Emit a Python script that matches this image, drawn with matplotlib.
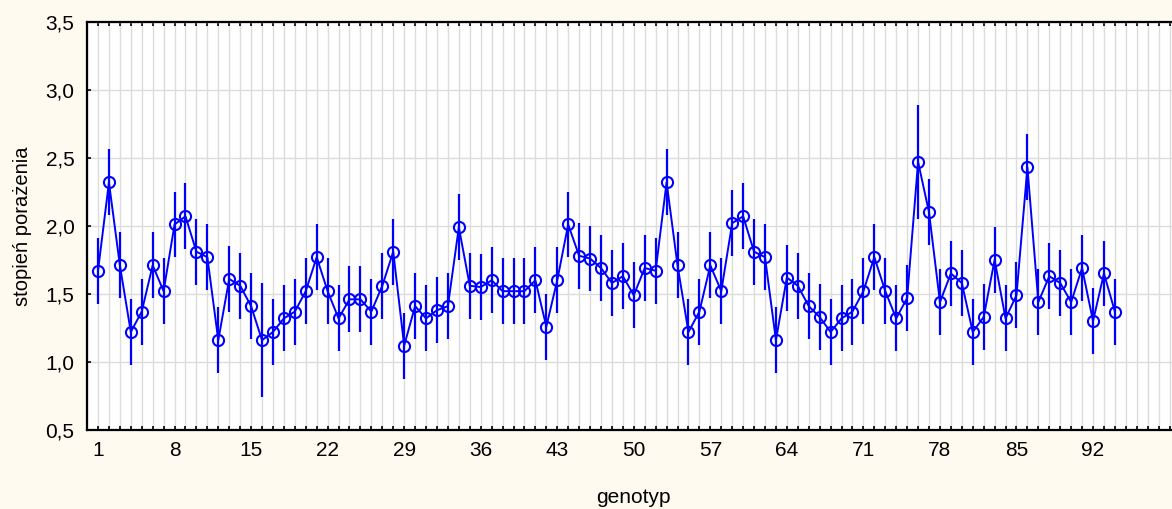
import matplotlib
matplotlib.use("Agg")
import matplotlib.pyplot as plt
import numpy as np

genotypes = list(range(1, 95))
means = [1.67, 2.32, 1.71, 1.22, 1.37, 1.71, 1.52, 2.01, 2.07, 1.81,
         1.77, 1.16, 1.61, 1.56, 1.41, 1.16, 1.22, 1.32, 1.37, 1.52,
         1.77, 1.52, 1.32, 1.46, 1.46, 1.37, 1.56, 1.81, 1.12, 1.41,
         1.32, 1.38, 1.41, 1.99, 1.56, 1.55, 1.60, 1.52, 1.52, 1.52,
         1.60, 1.26, 1.60, 2.01, 1.78, 1.76, 1.69, 1.58, 1.63, 1.49,
         1.69, 1.67, 2.32, 1.71, 1.22, 1.37, 1.71, 1.52, 2.02, 2.07,
         1.81, 1.77, 1.16, 1.62, 1.56, 1.41, 1.33, 1.22, 1.32, 1.37,
         1.52, 1.77, 1.52, 1.32, 1.47, 2.47, 2.10, 1.44, 1.65, 1.58,
         1.22, 1.33, 1.75, 1.32, 1.49, 2.43, 1.44, 1.63, 1.58, 1.44,
         1.69, 1.30, 1.65, 1.37]
errors = [0.242] * 15 + [0.42] + [0.242] * 59 + [0.42] + [0.242] * 18

xtick_values = list(range(1, 93, 7))
ytick_values = [0.5, 1.0, 1.5, 2.0, 2.5, 3.0, 3.5]
ytick_labels = ["0,5", "1,0", "1,5", "2,0", "2,5", "3,0", "3,5"]

plt.rcParams['font.family'] = ['Liberation Sans', 'DejaVu Sans']

bg = '#FFFAF0'
fig = plt.figure(figsize=(11.72, 5.09), dpi=100, facecolor=bg)
ax = fig.add_axes([87.07 / 1172, 79 / 509, (1180.5 - 87.07) / 1172, (430 - 21.7) / 509])
ax.set_facecolor('white')

ax.errorbar(genotypes, means, yerr=errors, fmt='none', ecolor='#0000FF',
            elinewidth=1.6, capsize=0, zorder=3)
ax.plot(genotypes, means, color='#0000FF', linewidth=1.4, marker='o',
        markersize=8, markerfacecolor='none', markeredgecolor='#0000FF',
        markeredgewidth=1.5, zorder=4)

ax.set_xlim(0, 100)
ax.set_ylim(0.5, 3.5)
ax.set_xticks(xtick_values)
ax.set_xticks(range(0, 101), minor=True)
ax.set_yticks(ytick_values)
ax.set_yticklabels(ytick_labels)

ax.grid(True, which='minor', axis='x', color='#DCDCDC', linewidth=1.0)
ax.grid(True, which='major', axis='x', color='#DCDCDC', linewidth=1.0)
ax.grid(True, which='major', axis='y', color='#DCDCDC', linewidth=1.0)
ax.set_axisbelow(True)

ax.tick_params(axis='x', which='both', direction='in', top=True, bottom=True,
               length=3, width=1.2, color='black', labelsize=15, pad=8)
ax.tick_params(axis='y', which='major', direction='in', left=True, right=True,
               length=3, width=1.2, labelsize=15, pad=9)

for s in ax.spines.values():
    s.set_linewidth(1.6)
    s.set_color('black')

ax.set_xlabel('genotyp', fontsize=15, labelpad=20)
ax.set_ylabel('stopień porażenia', fontsize=14.5, labelpad=10)

fig.savefig('out.png', dpi=100, facecolor=bg)
